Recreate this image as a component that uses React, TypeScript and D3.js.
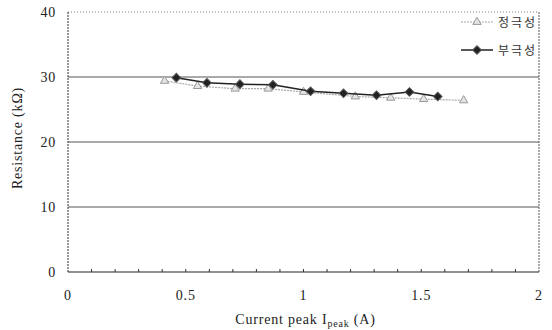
import { useEffect, useRef } from "react"
import * as d3 from "d3"

// 정극성 (positive polarity)
const posX = [0.41, 0.55, 0.71, 0.85, 1.0, 1.22, 1.37, 1.51, 1.68]
const posY = [29.4, 28.6, 28.2, 28.2, 27.7, 27.0, 26.8, 26.6, 26.4]
// 부극성 (negative polarity)
const negX = [0.46, 0.59, 0.73, 0.87, 1.03, 1.17, 1.31, 1.45, 1.57]
const negY = [29.9, 29.1, 28.9, 28.8, 27.8, 27.5, 27.2, 27.7, 27.0]

const xTicks = [0, 0.5, 1, 1.5, 2]
const yTicks = [0, 10, 20, 30, 40]
const seriesNames = ["정극성", "부극성"]

export default function App() {
  const svgRef = useRef<SVGSVGElement>(null)

  useEffect(() => {
    document.body.style.margin = "0"
    if (!svgRef.current) return
    const svg = d3.select(svgRef.current)
    svg.selectAll("*").remove()

    const width = 552
    const height = 330
    const margin = { top: 12, right: 13, bottom: 58, left: 68 }
    const innerWidth = width - margin.left - margin.right
    const innerHeight = height - margin.top - margin.bottom
    const font = "'Liberation Serif', 'Times New Roman', serif"

    const g = svg.append("g").attr("transform", `translate(${margin.left},${margin.top})`)

    const xScale = d3.scaleLinear().domain([0, 2]).range([0, innerWidth])
    const yScale = d3.scaleLinear().domain([0, 40]).range([innerHeight, 0])

    // grid lines
    yTicks.filter((t) => t > 0 && t < 40).forEach((t) => {
      g.append("line")
        .attr("x1", 0)
        .attr("x2", innerWidth)
        .attr("y1", yScale(t))
        .attr("y2", yScale(t))
        .attr("stroke", "#555")
        .attr("stroke-width", 1)
    })

    // frame: dotted top/right/left, solid bottom
    g.append("line").attr("x1", 0).attr("x2", innerWidth).attr("y1", 0).attr("y2", 0)
      .attr("stroke", "#777").attr("stroke-dasharray", "1,2")
    g.append("line").attr("x1", innerWidth).attr("x2", innerWidth).attr("y1", 0).attr("y2", innerHeight)
      .attr("stroke", "#555").attr("stroke-dasharray", "2,1")
    g.append("line").attr("x1", 0).attr("x2", 0).attr("y1", 0).attr("y2", innerHeight)
      .attr("stroke", "#333").attr("stroke-dasharray", "2,1")
    g.append("line").attr("x1", 0).attr("x2", innerWidth).attr("y1", innerHeight).attr("y2", innerHeight)
      .attr("stroke", "#222")

    // minor ticks on x axis
    d3.range(1, 20).forEach((i) => {
      g.append("line")
        .attr("x1", xScale(i / 10))
        .attr("x2", xScale(i / 10))
        .attr("y1", innerHeight)
        .attr("y2", innerHeight - 3)
        .attr("stroke", "#333")
    })

    // tick labels
    xTicks.forEach((t) => {
      g.append("text")
        .attr("x", xScale(t))
        .attr("y", innerHeight + 28)
        .attr("text-anchor", "middle")
        .style("font-family", font)
        .style("font-size", "14px")
        .attr("letter-spacing", "0.8px")
        .attr("fill", "#222")
        .text(String(t))
    })
    yTicks.forEach((t) => {
      g.append("text")
        .attr("x", -12)
        .attr("y", yScale(t) + 5)
        .attr("text-anchor", "end")
        .style("font-family", font)
        .style("font-size", "14px")
        .attr("letter-spacing", "0.8px")
        .attr("fill", "#222")
        .text(String(t))
    })

    // axis titles
    const xt = g.append("text")
      .attr("x", innerWidth / 2 + 2)
      .attr("y", innerHeight + 52)
      .attr("text-anchor", "middle")
      .style("font-family", font)
      .style("font-size", "14px")
      .attr("letter-spacing", "0.8px")
      .attr("fill", "#222")
    xt.append("tspan").text("Current peak I")
    xt.append("tspan").attr("dy", 3).style("font-size", "10px").text("peak")
    xt.append("tspan").attr("dy", -3).text(" (A)")

    g.append("text")
      .attr("transform", "rotate(-90)")
      .attr("x", -innerHeight / 2 + 4)
      .attr("y", -46)
      .attr("text-anchor", "middle")
      .style("font-family", font)
      .style("font-size", "14px")
      .attr("letter-spacing", "0.8px")
      .attr("fill", "#222")
      .text("Resistance (kΩ)")

    const line = d3.line<[number, number]>()
      .x((d) => xScale(d[0]))
      .y((d) => yScale(d[1]))

    const posData: [number, number][] = posX.map((x, i) => [x, posY[i]])
    const negData: [number, number][] = negX.map((x, i) => [x, negY[i]])

    const tri = d3.symbol().type(d3.symbolTriangle).size(30)
    const dia = d3.symbol().type(d3.symbolSquare).size(38)

    // 정극성
    g.append("path")
      .datum(posData)
      .attr("d", line)
      .attr("fill", "none")
      .attr("stroke", "#aaa")
      .attr("stroke-width", 1.2)
      .attr("stroke-dasharray", "2,1")
    g.selectAll(".pos")
      .data(posData)
      .enter()
      .append("path")
      .attr("class", "pos")
      .attr("transform", (d) => `translate(${xScale(d[0])},${yScale(d[1])})`)
      .attr("d", tri)
      .attr("fill", "#e4e4e4")
      .attr("stroke", "#999")
      .attr("stroke-width", 1)

    // 부극성
    g.append("path")
      .datum(negData)
      .attr("d", line)
      .attr("fill", "none")
      .attr("stroke", "#222")
      .attr("stroke-width", 1.5)
    g.selectAll(".neg")
      .data(negData)
      .enter()
      .append("path")
      .attr("class", "neg")
      .attr("transform", (d) => `translate(${xScale(d[0])},${yScale(d[1])}) rotate(45)`)
      .attr("d", dia)
      .attr("fill", "#222")
      .attr("stroke", "#555")

    // legend
    const legend = svg.append("g").attr("transform", "translate(461, 22)")
    seriesNames.forEach((name, i) => {
      const row = legend.append("g").attr("transform", `translate(0, ${i * 28})`)
      row.append("line")
        .attr("x1", 0)
        .attr("x2", 32)
        .attr("stroke", i === 0 ? "#aaa" : "#222")
        .attr("stroke-width", i === 0 ? 1.2 : 1.5)
        .attr("stroke-dasharray", i === 0 ? "2,1" : null)
      row.append("path")
        .attr("transform", i === 0 ? "translate(16,0)" : "translate(16,0) rotate(45)")
        .attr("d", i === 0 ? tri : dia)
        .attr("fill", i === 0 ? "#e4e4e4" : "#222")
        .attr("stroke", i === 0 ? "#999" : "#555")
      row.append("text")
        .attr("x", 37)
        .attr("y", 5)
        .style("font-family", "'Noto Sans CJK KR', sans-serif")
        .style("font-size", "12px")
        .attr("fill", "#333")
        .attr("letter-spacing", "2px")
        .text(name)
    })
  }, [])

  return <svg ref={svgRef} width={552} height={330} style={{ display: "block", background: "#fff" }} />
}
